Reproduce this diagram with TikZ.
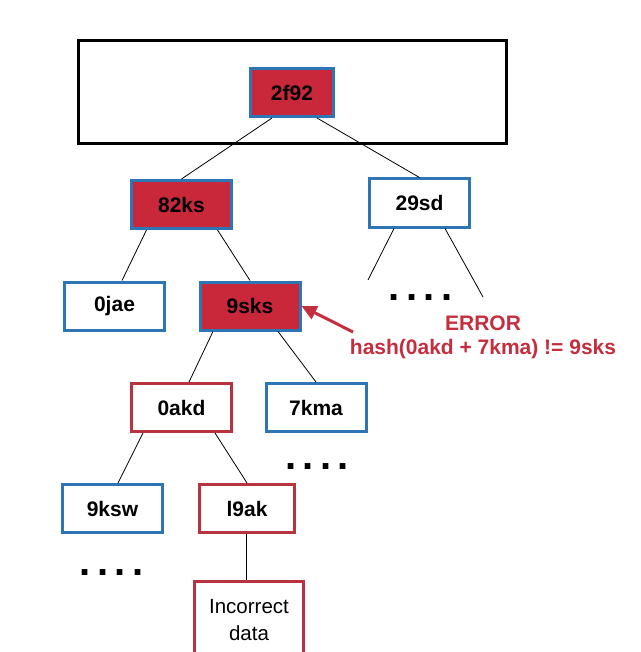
\documentclass[tikz,border=0pt]{standalone}
\usepackage{fontspec}
\setmainfont{Liberation Sans}
\usetikzlibrary{arrows.meta}
\definecolor{hashred}{RGB}{200,40,58}
\definecolor{edgeblue}{RGB}{46,117,182}
\definecolor{badred}{RGB}{184,50,63}
\definecolor{errred}{RGB}{196,46,62}
\newcommand{\elided}{.\kern6.5pt.\kern6.5pt.\kern6.5pt.}

\begin{document}
\begin{tikzpicture}[x=1pt,y=-1pt,
  hash/.style={rectangle,draw=edgeblue,line width=3pt,minimum width=100pt,minimum height=48pt,inner sep=0pt,font=\fontsize{21}{24}\selectfont\bfseries},
  bad/.style={hash,fill=hashred},
  wrong/.style={hash,draw=badred},
  more/.style={inner sep=0pt,anchor=base,font=\fontsize{40}{44}\selectfont\bfseries},
  link/.style={line width=0.8pt}]
\useasboundingbox (0,0) rectangle (640,652);
\clip (0,0) rectangle (640,652);
% root block
\draw [line width=3pt] (78,41) rectangle (506,144);
\node [bad,minimum width=83pt] (n2f92) at (292,92.5) {2f92};
\node [bad] (n82ks) at (181.5,204.5) {82ks};
\node [hash] (n29sd) at (419.5,203) {29sd};
\node [hash] (n0jae) at (114.5,306) {0jae};
\node [bad] (n9sks) at (250,306) {9sks};
\node [wrong] (n0akd) at (181.5,407.5) {0akd};
\node [hash] (n7kma) at (316,407.5) {7kma};
\node [hash] (n9ksw) at (112.5,508.5) {9ksw};
\node [wrong,minimum width=95pt] (nl9ak) at (247,508.5) {l9ak};
\node [wrong,minimum width=109pt,minimum height=78pt,align=center,font=\fontsize{20.5}{27}\selectfont] (ninc) at (249,620) {Incorrect\\data};
% elided branches
\node [more] (dots29sd) at (420.5,300) {\elided};
\node [more] (dots7kma) at (317,469) {\elided};
\node [more] (dots9ksw) at (111.5,575) {\elided};
\coordinate (leg1) at (368,280);
\coordinate (leg2) at (483,297);
% error note
\node [text=errred,align=center,font=\fontsize{21}{24}\selectfont\bfseries] (nerr) at (483,337) {ERROR\\hash(0akd + 7kma) != 9sks};
\coordinate (errtail) at (353,332);
% edges
\draw [link] ([xshift=-20pt]n2f92.south) -- (n82ks.north);
\draw [link] ([xshift=25pt]n2f92.south) -- (n29sd.north);
\draw [link] ([xshift=-35pt]n82ks.south) -- ([xshift=7.5pt]n0jae.north);
\draw [link] ([xshift=36pt]n82ks.south) -- (n9sks.north);
\draw [link] ([xshift=-25.5pt]n29sd.south) -- (leg1);
\draw [link] ([xshift=25.5pt]n29sd.south) -- (leg2);
\draw [link] ([xshift=-37pt]n9sks.south) -- ([xshift=7.5pt]n0akd.north);
\draw [link] ([xshift=28pt]n9sks.south) -- (n7kma.north);
\draw [link] ([xshift=-38.5pt]n0akd.south) -- ([xshift=5.5pt]n9ksw.north);
\draw [link] ([xshift=33.5pt]n0akd.south) -- (nl9ak.north);
\draw [link] ([xshift=-1pt]nl9ak.south) -- ([xshift=-1pt]nl9ak.south |- ninc.north);
\draw [errred,line width=3pt,-{Triangle[length=15pt,width=14pt]}] (errtail) -- (n9sks.east);
\end{tikzpicture}
\end{document}
